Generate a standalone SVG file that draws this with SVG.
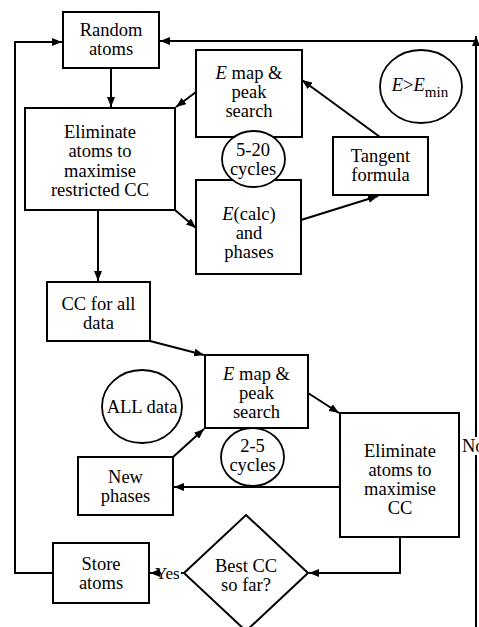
<svg xmlns="http://www.w3.org/2000/svg" width="479" height="627" viewBox="0 0 479 627">
<style>
.box{fill:#fff;stroke:#000;stroke-width:2}
.ell{fill:#fff;stroke:#000;stroke-width:1.8}
.ln{fill:none;stroke:#000;stroke-width:2}
text{font-family:'Liberation Serif','Times New Roman',Times,'DejaVu Serif',serif;font-size:18.5px;fill:#000;text-anchor:middle}
.it{font-style:italic}
</style>
<defs>
<marker id="ah" markerUnits="userSpaceOnUse" markerWidth="11" markerHeight="8" refX="10" refY="4" orient="auto">
<path d="M0,0 L10,4 L0,8 Z" fill="#000"/>
</marker>
</defs>
<rect width="479" height="627" fill="#fff"/>
<g id="connectors">
<path class="ln" d="M53,573 H15 V42 H62" marker-end="url(#ah)"/>
<path class="ln" d="M111,68 V107" marker-end="url(#ah)"/>
<path class="ln" d="M196,92 L176,107" marker-end="url(#ah)"/>
<path class="ln" d="M175,210 L196,228" marker-end="url(#ah)"/>
<path class="ln" d="M301,220 L378,196" marker-end="url(#ah)"/>
<path class="ln" d="M380,137 L302,80" marker-end="url(#ah)"/>
<path class="ln" d="M98,210 V281" marker-end="url(#ah)"/>
<path class="ln" d="M150,341 L204,355" marker-end="url(#ah)"/>
<path class="ln" d="M308,393 L339,413" marker-end="url(#ah)"/>
<path class="ln" d="M340,487 H174" marker-end="url(#ah)"/>
<path class="ln" d="M173,457 L204,429" marker-end="url(#ah)"/>
<path class="ln" d="M400,537 V573 H309" marker-end="url(#ah)"/>
<path class="ln" d="M184,573 H181"/>
<path class="ln" d="M156,573 H150" marker-end="url(#ah)"/>
<path class="ln" d="M476,627 V455"/>
<path class="ln" d="M476,437 V36" marker-end="url(#ah)"/>
<path class="ln" d="M476,41 H160" marker-end="url(#ah)"/>
<text x="155" y="579" style="text-anchor:start;font-size:17px">Yes</text>
<text x="462" y="452" style="text-anchor:start">No</text>
</g>
<g id="random-atoms">
<rect class="box" x="63" y="12" width="96" height="56"/>
<text x="111" y="36">Random</text>
<text x="111" y="55">atoms</text>
</g>
<g id="eliminate-restricted">
<rect class="box" x="25" y="108" width="150" height="102"/>
<text x="100" y="138">Eliminate</text>
<text x="100" y="157">atoms to</text>
<text x="100" y="177">maximise</text>
<text x="100" y="196">restricted CC</text>
</g>
<g id="emap-1">
<rect class="box" x="196" y="50" width="106" height="87"/>
<text x="249" y="79"><tspan class="it">E</tspan> map &amp;</text>
<text x="249" y="98">peak</text>
<text x="249" y="117">search</text>
</g>
<g id="ecalc">
<rect class="box" x="196" y="180" width="105" height="94"/>
<text x="249" y="220"><tspan class="it">E</tspan>(calc)</text>
<text x="249" y="239">and</text>
<text x="249" y="258">phases</text>
</g>
<g id="cycles-5-20">
<ellipse class="ell" cx="253.5" cy="159" rx="31.5" ry="28"/>
<text x="253" y="156">5-20</text>
<text x="253" y="175">cycles</text>
</g>
<g id="tangent">
<rect class="box" x="333" y="137" width="95" height="58"/>
<text x="380.5" y="162">Tangent</text>
<text x="380.5" y="181">formula</text>
</g>
<g id="emin">
<ellipse class="ell" cx="421" cy="86.5" rx="41" ry="36.5"/>
<text x="420" y="91"><tspan class="it">E</tspan>&gt;<tspan class="it">E</tspan><tspan dy="6" style="font-size:15px">min</tspan></text>
</g>
<g id="cc-all">
<rect class="box" x="47" y="282" width="103" height="59"/>
<text x="98.5" y="310">CC for all</text>
<text x="98.5" y="329">data</text>
</g>
<g id="emap-2">
<rect class="box" x="205" y="355" width="103" height="73"/>
<text x="256.5" y="380"><tspan class="it">E</tspan> map &amp;</text>
<text x="256.5" y="399">peak</text>
<text x="256.5" y="418">search</text>
</g>
<g id="all-data">
<ellipse class="ell" cx="142" cy="406.5" rx="40" ry="36.5"/>
<text x="142" y="413">ALL data</text>
</g>
<g id="cycles-2-5">
<ellipse class="ell" cx="252.5" cy="457" rx="31.5" ry="29"/>
<text x="252.5" y="452">2-5</text>
<text x="252.5" y="471">cycles</text>
</g>
<g id="eliminate-cc">
<rect class="box" x="340" y="413" width="119" height="124"/>
<text x="400" y="457">Eliminate</text>
<text x="400" y="476">atoms to</text>
<text x="400" y="495">maximise</text>
<text x="400" y="514">CC</text>
</g>
<g id="new-phases">
<rect class="box" x="78" y="457" width="95" height="58"/>
<text x="125.5" y="483">New</text>
<text x="125.5" y="502">phases</text>
</g>
<g id="best-cc">
<path class="box" d="M246,515 L308,573 L246,631 L184,573 Z"/>
<text x="246" y="572">Best CC</text>
<text x="246" y="591">so far?</text>
</g>
<g id="store-atoms">
<rect class="box" x="53" y="543" width="96" height="60"/>
<text x="101" y="570">Store</text>
<text x="101" y="589">atoms</text>
</g>
</svg>
